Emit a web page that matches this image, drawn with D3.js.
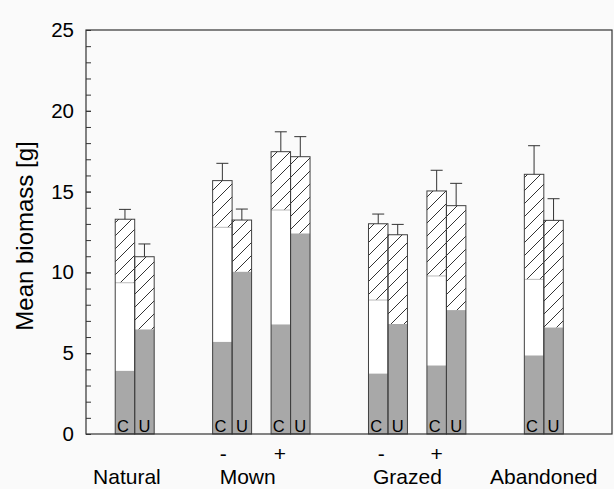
<!DOCTYPE html>
<html>
<head>
<meta charset="utf-8">
<script src="https://cdn.jsdelivr.net/npm/d3@7"></script>
<style>
  html, body { margin: 0; padding: 0; background: #fafafa; }
  svg { display: block; font-family: 'Liberation Sans', Arial, sans-serif; }
</style>
</head>
<body>
<div id="chart"></div>
<script>
// Groups along the x axis (position = boundary between the C and U bar, in bar widths)
const groups = ['Natural', 'Mown -', 'Mown +', 'Grazed -', 'Grazed +', 'Abandoned'];
const groupPos = [2.5, 7.5, 10.5, 15.5, 18.5, 23.5];

// Segment heights for the C bars: grey (bottom), white (middle), hatched (top)
const grayC = [3.92, 5.71, 6.79, 3.75, 4.25, 4.87];
const whiteC = [5.44, 7.08, 7.07, 4.54, 5.53, 4.70];
const hatchC = [3.93, 2.89, 3.61, 4.72, 5.26, 6.50];
const errC = [0.61, 1.07, 1.23, 0.60, 1.28, 1.77];

// Segment heights for the U bars: grey (bottom), hatched (top)
const grayU = [6.48, 10.05, 12.42, 6.81, 7.67, 6.60];
const hatchU = [4.49, 3.19, 4.74, 5.52, 6.46, 6.62];
const errU = [0.79, 0.68, 1.24, 0.64, 1.38, 1.34];

// Labels under the axis
const catLabels = ['Natural', 'Mown', 'Grazed', 'Abandoned'];
const catLabelPos = [2.1, 8.3, 16.5, 23.5];
const signLabels = ['-', '+', '-', '+'];
const signPos = [7.05, 9.95, 15.15, 18.0];
const yTicks = [0, 5, 10, 15, 20, 25];

const W = 614, H = 489;
const margin = {top: 30, right: 2, bottom: 55, left: 86};

const svg = d3.select('#chart').append('svg')
  .attr('width', W)
  .attr('height', H);

const x = d3.scaleLinear().domain([0, 27]).range([margin.left, W - margin.right]);
const y = d3.scaleLinear().domain([0, 25]).range([H - margin.bottom, margin.top]);
const bw = x(1) - x(0);

// hatch pattern
const defs = svg.append('defs');
const pat = defs.append('pattern')
  .attr('id', 'hatch')
  .attr('patternUnits', 'userSpaceOnUse')
  .attr('width', 13)
  .attr('height', 13);
pat.append('rect').attr('width', 13).attr('height', 13).attr('fill', '#ffffff');
pat.append('path')
  .attr('d', 'M0,13 L13,0 M-4,4 L4,-4 M9,17 L17,9')
  .attr('stroke', '#333')
  .attr('stroke-width', 1);

// build bar table
const rows = [];
groups.forEach((g, i) => {
  rows.push({group: g, type: 'C', pos: groupPos[i] - 1, gray: grayC[i], white: whiteC[i], hatch: hatchC[i], err: errC[i]});
  rows.push({group: g, type: 'U', pos: groupPos[i], gray: grayU[i], white: 0, hatch: hatchU[i], err: errU[i]});
});
const keys = ['gray', 'white', 'hatch'];
const fills = {gray: '#a8a8a8', white: '#ffffff', hatch: 'url(#hatch)'};
const stacked = d3.stack().keys(keys)(rows);

// axes ticks (inward) with labels outside
const minor = d3.axisLeft(y).tickValues(d3.range(0, 26, 1)).tickSize(-5).tickFormat('');
svg.append('g')
  .attr('transform', 'translate(' + margin.left + ',0)')
  .call(minor)
  .call(g => g.select('.domain').remove())
  .call(g => g.selectAll('line').attr('stroke', '#333'));

const major = d3.axisLeft(y).tickValues(yTicks).tickSizeInner(-5).tickSizeOuter(0).tickPadding(12);
svg.append('g')
  .attr('transform', 'translate(' + margin.left + ',0)')
  .call(major)
  .call(g => g.select('.domain').remove())
  .call(g => g.selectAll('line').attr('stroke', '#333'))
  .call(g => g.selectAll('text').attr('font-size', 20.5).attr('font-family', null).attr('fill', '#000'));

// stacked segments
svg.append('g')
  .selectAll('g')
  .data(stacked)
  .join('g')
    .attr('fill', (s) => fills[s.key])
  .selectAll('rect')
  .data((s) => s.filter((d) => d[1] > d[0]))
  .join('rect')
    .attr('x', (d) => x(d.data.pos))
    .attr('width', bw)
    .attr('y', (d) => y(d[1]))
    .attr('height', (d) => y(d[0]) - y(d[1]));

// light line where hatch meets white
svg.append('g')
  .selectAll('line')
  .data(rows.filter((d) => d.white > 0))
  .join('line')
    .attr('x1', (d) => x(d.pos))
    .attr('x2', (d) => x(d.pos + 1))
    .attr('y1', (d) => y(d.gray + d.white))
    .attr('y2', (d) => y(d.gray + d.white))
    .attr('stroke', '#bbb');

// bar outlines
svg.append('g')
  .selectAll('rect')
  .data(rows)
  .join('rect')
    .attr('x', (d) => x(d.pos))
    .attr('width', bw)
    .attr('y', (d) => y(d.gray + d.white + d.hatch))
    .attr('height', (d) => y(0) - y(d.gray + d.white + d.hatch))
    .attr('fill', 'none')
    .attr('stroke', '#404040')
    .attr('stroke-width', 1);

// error bars (upper only)
const eb = svg.append('g').attr('stroke', '#333').attr('stroke-width', 1);
eb.selectAll('.err-v')
  .data(rows)
  .join('line')
    .attr('class', 'err-v')
    .attr('x1', (d) => x(d.pos + 0.5))
    .attr('x2', (d) => x(d.pos + 0.5))
    .attr('y1', (d) => y(d.gray + d.white + d.hatch))
    .attr('y2', (d) => y(d.gray + d.white + d.hatch + d.err));
eb.selectAll('.err-cap')
  .data(rows)
  .join('line')
    .attr('class', 'err-cap')
    .attr('x1', (d) => x(d.pos + 0.5) - 6)
    .attr('x2', (d) => x(d.pos + 0.5) + 6)
    .attr('y1', (d) => y(d.gray + d.white + d.hatch + d.err))
    .attr('y2', (d) => y(d.gray + d.white + d.hatch + d.err));

// C / U labels inside bars
svg.append('g')
  .selectAll('text')
  .data(rows)
  .join('text')
    .attr('x', (d) => x(d.pos + 0.5) + (d.type === 'C' ? -2 : 0))
    .attr('y', y(0) - 2)
    .attr('text-anchor', 'middle')
    .attr('font-size', 16.5)
    .text((d) => d.type);

// plot frame
svg.append('rect')
  .attr('x', margin.left)
  .attr('y', margin.top)
  .attr('width', W - margin.right - margin.left)
  .attr('height', y(0) - margin.top)
  .attr('fill', 'none')
  .attr('stroke', '#333')
  .attr('stroke-width', 1.2);

// +/- under the axis
svg.append('g')
  .selectAll('text')
  .data(signLabels)
  .join('text')
    .attr('x', (d, i) => x(signPos[i]))
    .attr('y', 461)
    .attr('text-anchor', 'middle')
    .attr('font-size', 21)
    .text((d) => d);

// category labels
svg.append('g')
  .selectAll('text')
  .data(catLabels)
  .join('text')
    .attr('x', (d, i) => x(catLabelPos[i]))
    .attr('y', 484)
    .attr('text-anchor', 'middle')
    .attr('font-size', 21)
    .text((d) => d);

// y axis title
svg.append('text')
  .attr('transform', 'translate(33,' + ((margin.top + y(0)) / 2 + 4) + ') rotate(-90)')
  .attr('text-anchor', 'middle')
  .attr('font-size', 24)
  .text('Mean biomass [g]');
</script>
</body>
</html>
